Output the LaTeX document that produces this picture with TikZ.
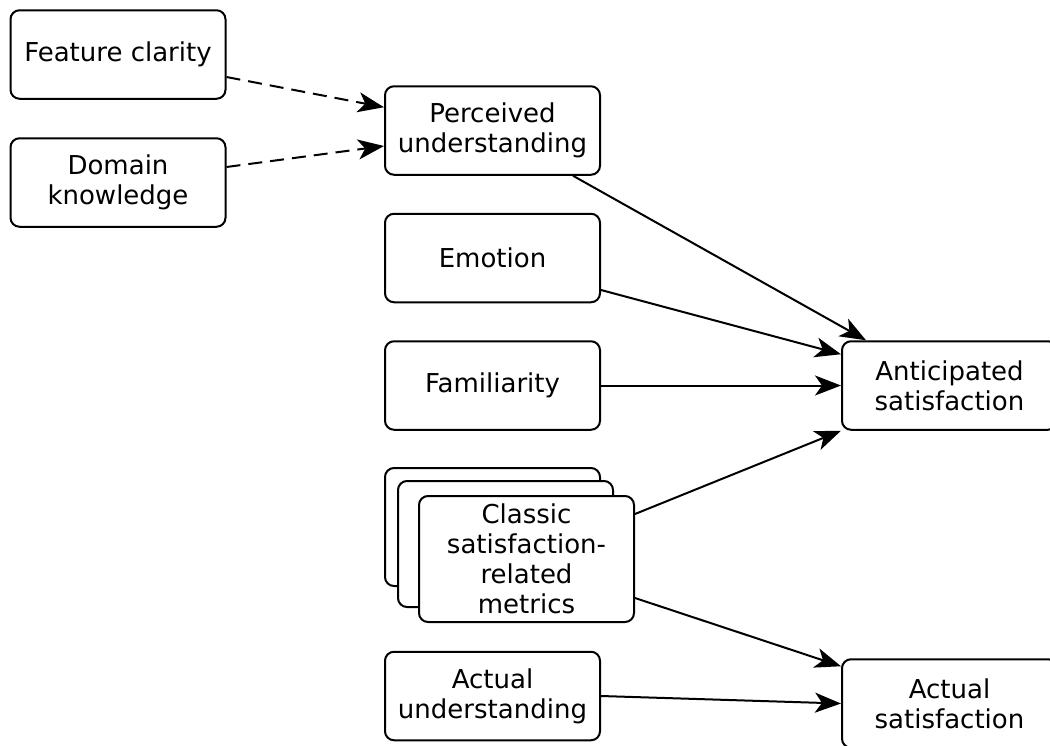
\documentclass[tikz,border=0pt]{standalone}
\usepackage{fontspec}
\setmainfont{DejaVu Sans}
\usetikzlibrary{arrows.meta}
\begin{document}
\begin{tikzpicture}[x=1pt,y=-1pt,
  box/.style={draw, line width=2pt, rounded corners=9pt, minimum width=215pt,
    minimum height=88.5pt, align=center, inner sep=0pt, fill=white,
    font=\fontsize{26}{30}\selectfont},
  link/.style={line width=2pt, -{Stealth[length=26pt,width=20pt,inset=7pt]}},
  dlink/.style={link, dash pattern=on 14pt off 8pt}]
\useasboundingbox (0,0) rectangle (1050,745);
% left inputs
\node[box] (fc) at (118,54.5) {Feature clarity};
\node[box] (dk) at (118,182.5) {Domain\\knowledge};
% middle column
\node[box] (pu) at (492.5,130.5) {Perceived\\understanding};
\node[box] (em) at (492.5,258) {Emotion};
\node[box] (fa) at (492.5,385.5) {Familiarity};
\node[box, minimum height=118pt] (cm3) at (492.5,527) {};
\node[box, minimum height=126pt] (cm2) at (505.5,544) {};
\node[box, minimum height=126pt] (cm) at (526.5,559) {Classic\\satisfaction-\\related\\metrics};
\node[box] (au) at (492.5,696) {Actual\\understanding};
% outcomes
\node[box] (as) at (949.5,385.5) {Anticipated\\satisfaction};
\node[box] (ac) at (949.5,703.5) {Actual\\satisfaction};
% connectors
\draw[dlink] ([yshift=-22.5pt]fc.east) -- ([yshift=-22pt]pu.north west);
\draw[dlink] ([yshift=15.5pt]dk.east) -- ([yshift=-15.5pt]pu.west);
\draw[link] ([xshift=80.5pt]pu.south) -- ([xshift=25pt]as.north west);
\draw[link] ([yshift=-32pt]em.east) -- ([yshift=-14pt]as.north west);
\draw[link] (fa.east) -- (as.west);
\draw[link] ([yshift=-19pt]cm.north east) -- (as.south west);
\draw[link] ([yshift=25pt]cm.south east) -- ([yshift=-8pt]ac.north west);
\draw[link] (au.east) -- (ac.west);
\end{tikzpicture}
\end{document}
